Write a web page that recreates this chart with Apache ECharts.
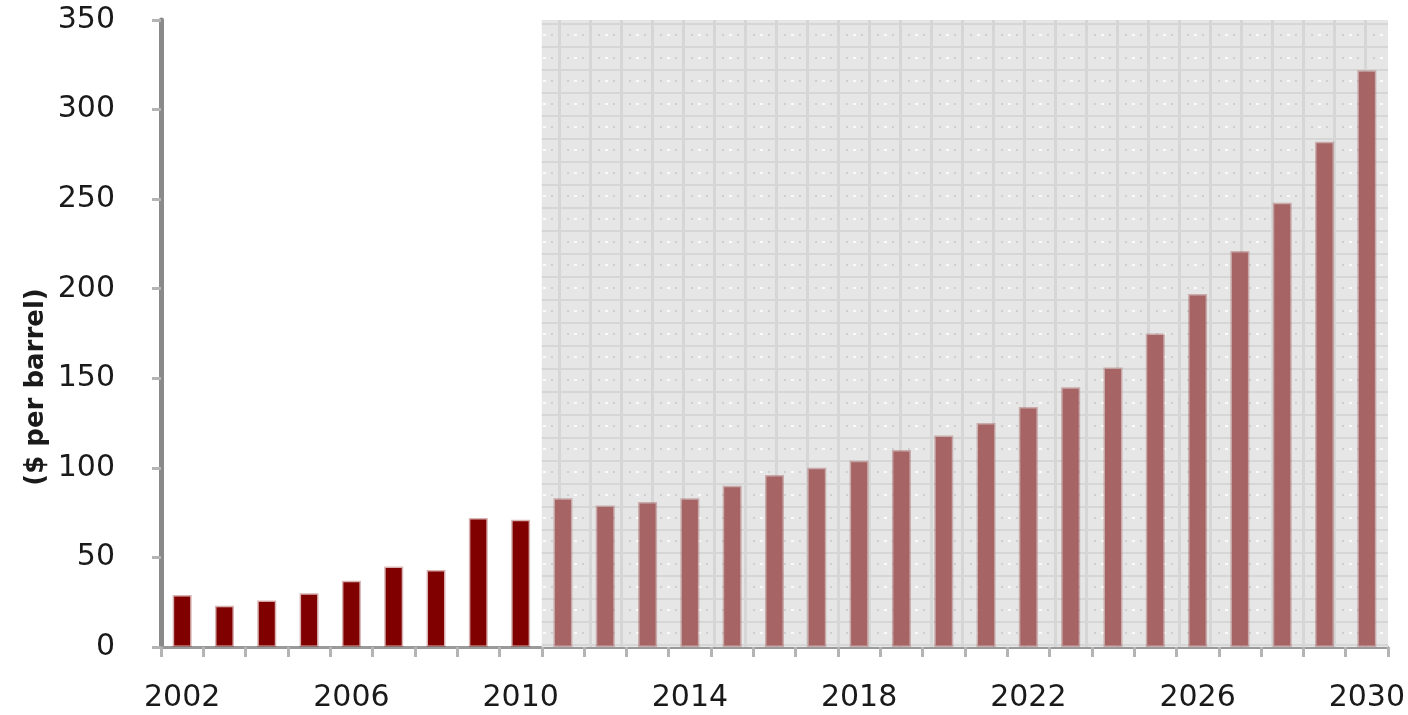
<!DOCTYPE html>
<html>
<head>
<meta charset="utf-8">
<script src="https://cdn.jsdelivr.net/npm/echarts@6/dist/echarts.min.js"></script>
<style>
  html, body { margin: 0; padding: 0; background: #fff; }
  #chart { width: 1408px; height: 715px; }
</style>
</head>
<body>
<div id="chart"></div>
<script>
// years on the x axis
var years = ['2002', '2003', '2004', '2005', '2006', '2007', '2008', '2009', '2010',
    '2011', '2012', '2013', '2014', '2015', '2016', '2017', '2018', '2019', '2020',
    '2021', '2022', '2023', '2024', '2025', '2026', '2027', '2028', '2029', '2030'];

// historical prices ($ per barrel), null for projected years
var historical = [29, 23, 26, 30, 37, 45, 43, 72, 71,
    null, null, null, null, null, null, null, null, null, null,
    null, null, null, null, null, null, null, null, null, null];

// projected prices, null for historical years
var projected = [null, null, null, null, null, null, null, null, null,
    83, 79, 81, 83, 90, 96, 100, 104, 110, 118,
    125, 134, 145, 156, 175, 197, 221, 248, 282, 322];

var yTicks = { min: 0, max: 350, interval: 50 };

// grey dotted grid texture for the projection period
function makePattern() {
    var c = document.createElement('canvas');
    c.width = 31;
    c.height = 23;
    var ctx = c.getContext('2d');
    ctx.fillStyle = '#e6e6e6';
    ctx.fillRect(0, 0, 31, 23);
    ctx.fillStyle = '#d6d6d6';
    ctx.fillRect(0, 0, 3, 23);
    ctx.fillRect(0, 0, 31, 2);
    ctx.fillStyle = '#fafafa';
    ctx.fillRect(16, 11, 3, 2);
    ctx.fillStyle = '#cfcfcf';
    ctx.fillRect(9, 11, 2, 2);
    ctx.fillRect(24, 11, 2, 2);
    return c;
}

var myChart = echarts.init(document.getElementById('chart'));

var option = {
    animation: false,
    grid: { left: 161, right: 19, top: 20, bottom: 68 },
    graphic: [{
        type: 'text',
        x: 36,
        y: 387,
        rotation: Math.PI / 2,
        style: {
            text: '($ per barrel)',
            font: 'bold 26px "DejaVu Sans"',
            fill: '#1a1a1a',
            align: 'center',
            verticalAlign: 'middle'
        }
    }],
    xAxis: {
        type: 'category',
        data: years,
        axisLine: { lineStyle: { color: '#9a9a9a', width: 3 } },
        axisTick: { show: true, interval: 0, length: 10, lineStyle: { color: '#b4b4b4', width: 3 } },
        axisLabel: {
            interval: 3,
            margin: 36,
            fontSize: 30,
            fontFamily: 'DejaVu Sans',
            color: '#1a1a1a'
        },
        splitLine: { show: false }
    },
    yAxis: {
        type: 'value',
        min: yTicks.min,
        max: yTicks.max,
        interval: yTicks.interval,
        axisLine: { show: true, lineStyle: { color: '#8a8a8a', width: 5 } },
        axisTick: { show: true, length: 9, lineStyle: { color: '#b4b4b4', width: 3 } },
        axisLabel: {
            margin: 46,
            fontSize: 30,
            fontFamily: 'DejaVu Sans',
            color: '#1a1a1a'
        },
        splitLine: { show: false }
    },
    series: [
        {
            name: 'Historical',
            type: 'bar',
            data: historical,
            barWidth: 19,
            barGap: '-100%',
            itemStyle: {
                color: '#800000',
                borderColor: 'rgba(128,0,0,0.3)',
                borderWidth: 3
            },
            z: 3
        },
        {
            name: 'Projected',
            type: 'bar',
            data: projected,
            barWidth: 19,
            itemStyle: {
                color: '#a76464',
                borderColor: 'rgba(167,100,100,0.45)',
                borderWidth: 3
            },
            z: 3,
            markArea: {
                silent: true,
                z: 1,
                itemStyle: {
                    color: { image: makePattern(), repeat: 'repeat' }
                },
                data: [[{ xAxis: '2011' }, { xAxis: '2030' }]]
            }
        }
    ]
};

myChart.setOption(option);
</script>
</body>
</html>
